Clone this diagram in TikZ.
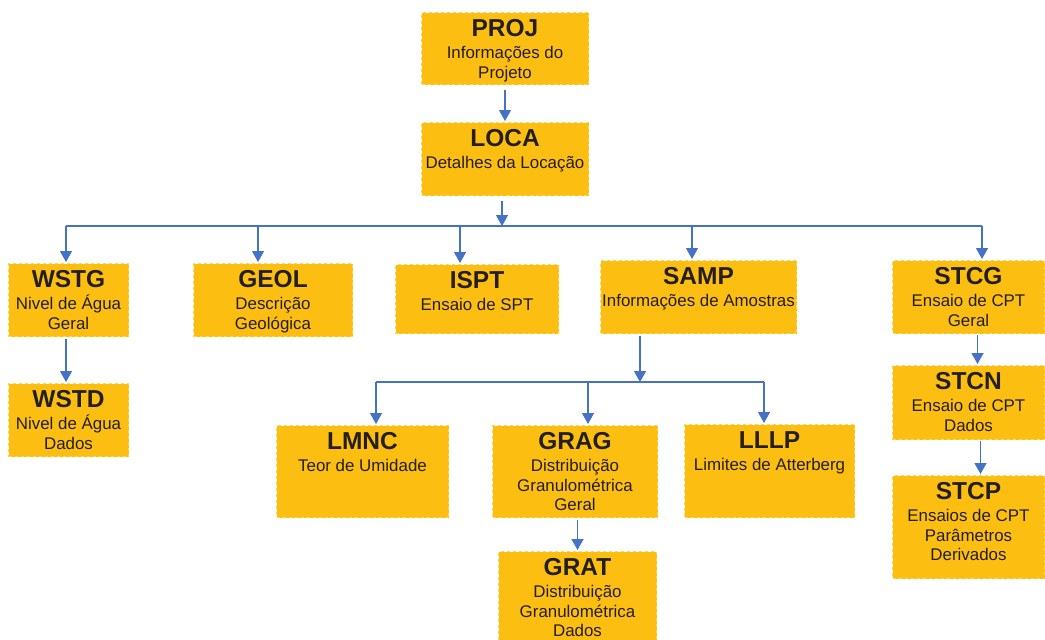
\documentclass[tikz,border=0pt]{standalone}
\usepackage{fontspec}
\setmainfont{Liberation Sans}
\usetikzlibrary{arrows.meta}
\definecolor{boxfill}{RGB}{253,190,18}
\definecolor{boxline}{RGB}{255,214,92}
\definecolor{linkcol}{RGB}{68,114,196}
\definecolor{txtcol}{RGB}{35,31,32}
\newcommand{\boxtitle}{\fontsize{24.5}{24.5}\selectfont\bfseries}
\tikzset{
  box/.style={draw=boxline,dashed,line width=1pt,fill=boxfill,anchor=north west,inner sep=0pt},
  lbl/.style={anchor=north,yshift=-7.5pt,align=center,inner sep=0pt,text=txtcol,
    font=\fontsize{16.9}{19.5}\selectfont},
  link/.style={draw=linkcol,line width=1.3pt},
  arr/.style={link,-{Triangle[width=12pt,length=11pt]},shorten <=5pt,shorten >=1pt}
}
\begin{document}
\begin{tikzpicture}[x=1pt,y=-1pt]
                \useasboundingbox (0,0) rectangle (1045,640);
                % boxes
                \node[box,minimum width=167pt,minimum height=72pt] (proj) at (421,12) {};
                \node[box,minimum width=167pt,minimum height=73pt] (loca) at (421,122) {};
                \node[box,minimum width=120pt,minimum height=73pt] (wstg) at (8,263) {};
                \node[box,minimum width=120pt,minimum height=73pt] (wstd) at (8,383) {};
                \node[box,minimum width=159pt,minimum height=73pt] (geol) at (193,263) {};
                \node[box,minimum width=163pt,minimum height=69pt] (ispt) at (395,264) {};
                \node[box,minimum width=196pt,minimum height=73pt] (samp) at (600,260) {};
                \node[box,minimum width=152pt,minimum height=73pt] (stcg) at (892,260) {};
                \node[box,minimum width=152pt,minimum height=74pt] (stcn) at (892,365) {};
                \node[box,minimum width=152pt,minimum height=103pt] (stcp) at (892,475) {};
                \node[box,minimum width=172pt,minimum height=92pt] (lmnc) at (276,425) {};
                \node[box,minimum width=165pt,minimum height=92pt] (grag) at (492,425) {};
                \node[box,minimum width=170pt,minimum height=93pt] (lllp) at (684,424) {};
                \node[box,minimum width=158pt,minimum height=97pt] (grat) at (498,551) {};
                % texts
                \node[lbl] (projtxt) at (proj.north) {{\boxtitle PROJ}\\[2.5pt]Informações do\\Projeto};
                \node[lbl] (locatxt) at (loca.north) {{\boxtitle LOCA}\\[2.5pt]Detalhes da Locação};
                \node[lbl] (wstgtxt) at (wstg.north) {{\boxtitle WSTG}\\[2.5pt]Nivel de Água\\Geral};
                \node[lbl] (wstdtxt) at (wstd.north) {{\boxtitle WSTD}\\[2.5pt]Nivel de Água\\Dados};
                \node[lbl] (geoltxt) at (geol.north) {{\boxtitle GEOL}\\[2.5pt]Descrição\\Geológica};
                \node[lbl] (ispttxt) at (ispt.north) {{\boxtitle ISPT}\\[2.5pt]Ensaio de SPT};
                \node[lbl] (samptxt) at (samp.north) {{\boxtitle SAMP}\\[2.5pt]Informações de Amostras};
                \node[lbl] (stcgtxt) at (stcg.north) {{\boxtitle STCG}\\[2.5pt]Ensaio de CPT\\Geral};
                \node[lbl] (stcntxt) at (stcn.north) {{\boxtitle STCN}\\[2.5pt]Ensaio de CPT\\Dados};
                \node[lbl] (stcptxt) at (stcp.north) {{\boxtitle STCP}\\[2.5pt]Ensaios de CPT\\Parâmetros\\Derivados};
                \node[lbl] (lmnctxt) at (lmnc.north) {{\boxtitle LMNC}\\[2.5pt]Teor de Umidade};
                \node[lbl] (gragtxt) at (grag.north) {{\boxtitle GRAG}\\[2.5pt]Distribuição\\Granulométrica\\Geral};
                \node[lbl] (lllptxt) at (lllp.north) {{\boxtitle LLLP}\\[2.5pt]Limites de Atterberg};
                \node[lbl] (grattxt) at (grat.north) {{\boxtitle GRAT}\\[2.5pt]Distribuição\\Granulométrica\\Dados};
                % bus coordinates
                \coordinate (bus) at (502,226);
                \coordinate (b1) at (66,226);
                \coordinate (b2) at (258,226);
                \coordinate (b3) at (460,226);
                \coordinate (b4) at (692,226);
                \coordinate (b5) at (982,226);
                \coordinate (sbus) at (640,382);
                \coordinate (s1) at (376,382);
                \coordinate (s2) at (588,382);
                \coordinate (s3) at (764,382);
                % links
                \draw[arr] (proj.south) -- (loca.north);
                \draw[arr,shorten >=0pt] (loca.south -| bus) -- (bus);
                \draw[link] (b1) -- (b5);
                \foreach \b/\n in {b1/wstg,b2/geol,b3/ispt,b4/samp,b5/stcg}
                    \draw[arr,shorten <=0pt] (\b) -- (\b |- \n.north);
                \draw[arr,shorten <=2pt] (wstg.south -| b1) -- (wstd.north -| b1);
                \draw[arr,shorten <=2pt,shorten >=0pt] (samp.south -| sbus) -- (sbus);
                \draw[link] (s1) -- (s3);
                \foreach \s/\n in {s1/lmnc,s2/grag,s3/lllp}
                    \draw[arr,shorten <=0pt] (\s) -- (\s |- \n.north);
                \draw[arr,shorten <=2pt] (grat.north |- grag.south) -- (grat.north);
                \draw[arr,shorten <=1pt] ([xshift=9pt]stcg.south) -- ([xshift=9pt]stcn.north);
                \draw[arr,shorten <=1pt] ([xshift=12pt]stcn.south) -- ([xshift=12pt]stcp.north);
\end{tikzpicture}
\end{document}
